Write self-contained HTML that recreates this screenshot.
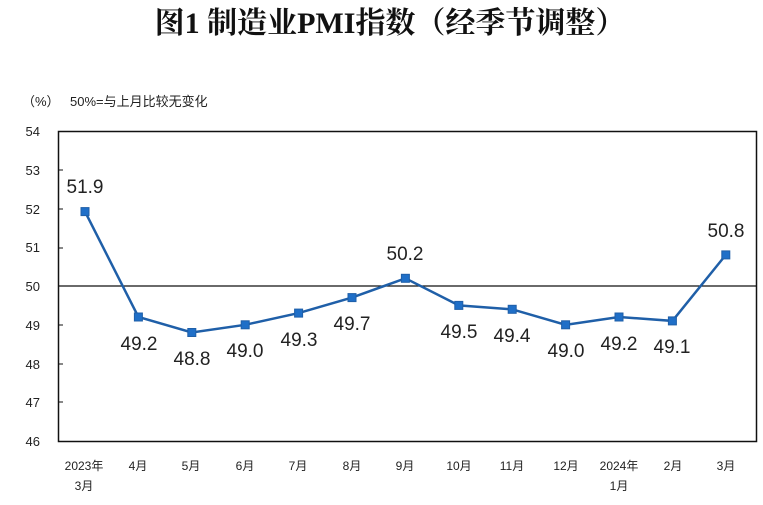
<!DOCTYPE html>
<html><head><meta charset="utf-8"><style>
body{margin:0;background:#fff;}
svg text{font-family:"Liberation Sans","Noto Sans CJK SC",sans-serif;}
</style></head><body>
<svg width="763" height="500" xmlns="http://www.w3.org/2000/svg">
<rect width="763" height="500" fill="#fff"/>
<text x="390" y="33" text-anchor="middle" font-size="30" font-weight="bold" fill="#111" style="font-family:'Liberation Serif','Noto Serif CJK SC',serif">图1  制造业PMI指数（经季节调整）</text>
<text x="22" y="106" font-size="13" fill="#222">（%）</text>
<text x="70" y="106" font-size="13" fill="#222">50%=与上月比较无变化</text>
<rect x="58.5" y="131.5" width="698" height="310" fill="none" stroke="#111" stroke-width="1.5"/>
<line x1="58" y1="286" x2="757" y2="286" stroke="#111" stroke-width="1.2"/>
<g font-size="13" fill="#222" text-anchor="end">
<text x="40" y="136">54</text><text x="40" y="175">53</text><text x="40" y="214">52</text><text x="40" y="252">51</text><text x="40" y="291">50</text><text x="40" y="330">49</text><text x="40" y="369">48</text><text x="40" y="407">47</text><text x="40" y="446">46</text>
</g>
<g stroke="#111"><line x1="58" y1="170" x2="63" y2="170"/><line x1="58" y1="209" x2="63" y2="209"/><line x1="58" y1="248" x2="63" y2="248"/><line x1="58" y1="325" x2="63" y2="325"/><line x1="58" y1="364" x2="63" y2="364"/><line x1="58" y1="402" x2="63" y2="402"/></g>
<polyline fill="none" stroke="#1f5fa8" stroke-width="2.5" points="85,211.6 138.4,317 191.8,332.5 245.2,324.8 298.6,313.1 352,297.6 405.4,278.3 458.8,305.4 512.2,309.3 565.6,324.8 619,317 672.4,320.9 725.8,254.9"/>
<g fill="#1f6fc8" stroke="#1f5fa8">
<rect x="81" y="207.6" width="8" height="8"/><rect x="134.4" y="313" width="8" height="8"/><rect x="187.8" y="328.5" width="8" height="8"/><rect x="241.2" y="320.8" width="8" height="8"/><rect x="294.6" y="309.1" width="8" height="8"/><rect x="348" y="293.6" width="8" height="8"/><rect x="401.4" y="274.3" width="8" height="8"/><rect x="454.8" y="301.4" width="8" height="8"/><rect x="508.2" y="305.3" width="8" height="8"/><rect x="561.6" y="320.8" width="8" height="8"/><rect x="615" y="313" width="8" height="8"/><rect x="668.4" y="316.9" width="8" height="8"/><rect x="721.8" y="250.9" width="8" height="8"/>
</g>
<g font-size="19" fill="#222" text-anchor="middle">
<text x="85" y="193">51.9</text><text x="139" y="350">49.2</text><text x="192" y="365">48.8</text><text x="245" y="357">49.0</text><text x="299" y="346">49.3</text><text x="352" y="330">49.7</text><text x="405" y="260">50.2</text><text x="459" y="338">49.5</text><text x="512" y="342">49.4</text><text x="566" y="357">49.0</text><text x="619" y="350">49.2</text><text x="672" y="353">49.1</text><text x="726" y="237">50.8</text>
</g>
<g font-size="12" fill="#222" text-anchor="middle">
<text x="84" y="470">2023年</text><text x="84" y="490">3月</text>
<text x="138" y="470">4月</text><text x="191" y="470">5月</text><text x="245" y="470">6月</text><text x="298" y="470">7月</text><text x="352" y="470">8月</text><text x="405" y="470">9月</text><text x="459" y="470">10月</text><text x="512" y="470">11月</text><text x="566" y="470">12月</text>
<text x="619" y="470">2024年</text><text x="619" y="490">1月</text>
<text x="673" y="470">2月</text><text x="726" y="470">3月</text>
</g>
</svg>
</body></html>
